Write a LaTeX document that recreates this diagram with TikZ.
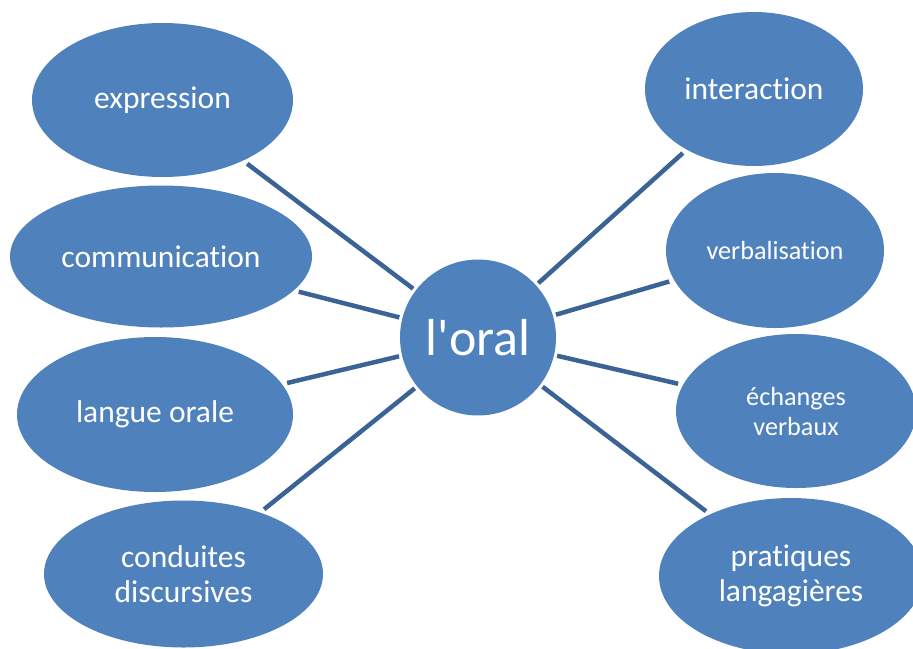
\documentclass[tikz,border=0pt]{standalone}
\usepackage{fontspec}
\setmainfont{Carlito}[Ligatures=NoCommon]
\usetikzlibrary{shapes.geometric}
\definecolor{oralblue}{HTML}{4F81BD}
\definecolor{linkblue}{HTML}{3B6396}
\tikzset{
  bubble/.style={ellipse, fill=oralblue, text=white, inner sep=0pt, align=center,
    font=\fontsize{31.5}{35.5}\selectfont},
  small/.style={font=\fontsize{26.2}{30}\selectfont},
  link/.style={draw=linkblue, line width=4.5pt, shorten <=3pt, shorten >=5pt}
}
\begin{document}
\begin{tikzpicture}[x=1pt, y=-1pt]
\clip (0,0) rectangle (913,648);
% centre
\node[circle, fill=oralblue, text=white, inner sep=0pt, minimum size=156pt,
  font=\fontsize{52}{56}\selectfont] (oral) at (478,337.5) {l\textquotesingle oral};
% left side
\node[bubble, minimum width=261pt, minimum height=154pt] (expr) at (162.5,100) {expression};
\node[bubble, minimum width=302pt, minimum height=142pt] (comm) at (161,256.5) {communication};
\node[bubble, minimum width=276pt, minimum height=155pt] (lang) at (155,414.5) {langue orale};
\node[bubble, minimum width=279pt, minimum height=147pt] (cond) at (183.5,574) {conduites\\discursives};
% right side
\node[bubble, minimum width=218pt, minimum height=154pt] (inter) at (754,89) {interaction};
\node[bubble, small, minimum width=218pt, minimum height=155pt] (verb) at (775,250.5) {verbalisation};
\node[bubble, small, minimum width=240pt, minimum height=154pt] (echg) at (796,411) {échanges\\verbaux};
\node[bubble, minimum width=264pt, minimum height=156pt] (prat) at (791,576) {pratiques\\langagières};
% links
\draw[link] (oral) -- (expr);
\draw[link] (oral) -- (comm);
\draw[link] (oral) -- (lang);
\draw[link] (oral) -- (cond);
\draw[link] (oral) -- (inter);
\draw[link] (oral) -- (verb);
\draw[link] (oral) -- (echg);
\draw[link] (oral) -- (prat);
\end{tikzpicture}
\end{document}
